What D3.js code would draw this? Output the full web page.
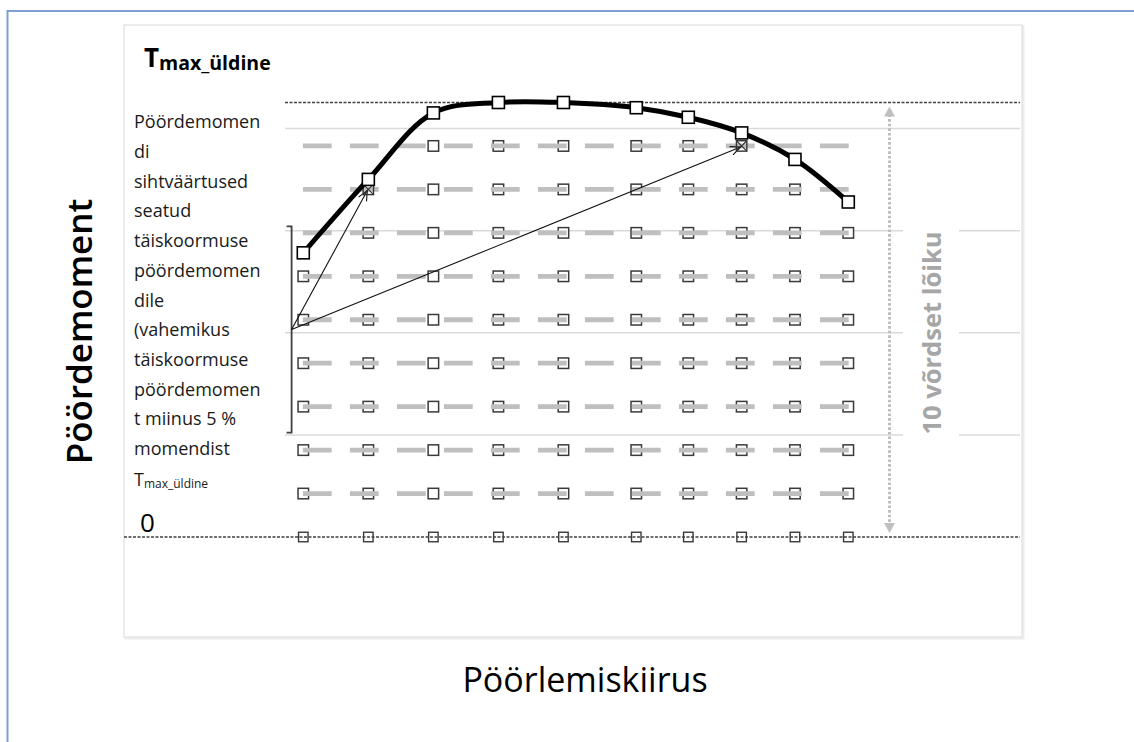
<!DOCTYPE html>
<html><head><meta charset="utf-8">
<script src="https://cdn.jsdelivr.net/npm/d3@7"></script>
<style>
html,body{margin:0;padding:0;background:#fff;}
svg{display:block;font-family:"Open Sans",sans-serif;}
</style>
</head><body>
<svg id="c" width="1134" height="742"></svg>
<script>
// ---- data ----
const speeds = [1000, 1500, 2000, 2500, 3000, 3560, 3960, 4370, 4780, 5190];
const fullLoadTorque = [65.4, 82.3, 97.6, 100, 100, 98.8, 96.6, 93.0, 86.9, 77.1];
const setpointLevels = [10, 20, 30, 40, 50, 60, 70, 80, 90];
const zeroLevel = 0;
const tmaxLevel = 100;
const gridLevels = [23.5, 47.0, 70.5, 94.0];
const bracketRange = [24, 71.5];
const bracketSpeed = 910;
const highlighted = [{speed: 1500, torque: 80}, {speed: 4370, torque: 90}];
const noteLines = ["Pöördemomen", "di", "sihtväärtused", "seatud", "täiskoormuse",
  "pöördemomen", "dile", "(vahemikus", "täiskoormuse", "pöördemomen",
  "t miinus 5 %", "momendist"];
const yAxisTitle = "Pöördemoment";
const xAxisTitle = "Pöörlemiskiirus";
const segmentLabel = "10 võrdset lõiku";
const zeroLabel = "0";

// ---- layout ----
const svg = d3.select("#c");
const x = d3.scaleLinear().domain([speeds[0], speeds[speeds.length - 1]]).range([303.3, 848.3]);
const y = d3.scaleLinear().domain([0, 100]).range([537, 102.5]);
const plotLeft = 285, plotRight = 1020;
const boxL = 124, boxT = 25, boxR = 1022, boxB = 637;

// outer blue frame
svg.append("line").attr("x1", 7).attr("x2", 1134).attr("y1", 11).attr("y2", 11)
  .attr("stroke", "#7f9fd4").attr("stroke-width", 2);
svg.append("line").attr("x1", 7.5).attr("x2", 7.5).attr("y1", 10).attr("y2", 742)
  .attr("stroke", "#7f9fd4").attr("stroke-width", 2);

// chart box with soft shadow
svg.append("rect").attr("x", boxL + 1.5).attr("y", boxT + 1.5).attr("width", boxR - boxL).attr("height", boxB - boxT)
  .attr("fill", "none").attr("stroke", "#ececec").attr("stroke-width", 2);
svg.append("rect").attr("x", boxL).attr("y", boxT).attr("width", boxR - boxL).attr("height", boxB - boxT)
  .attr("fill", "#fff").attr("stroke", "#d9d9d9").attr("stroke-width", 1);

// gridlines
svg.append("g").selectAll("line").data(gridLevels).join("line")
  .attr("x1", plotLeft).attr("x2", plotRight)
  .attr("y1", d => y(d)).attr("y2", d => y(d))
  .attr("stroke", "#dadada").attr("stroke-width", 1.5);

// white backing for the segment label
svg.append("rect").attr("x", 903).attr("y", 215).attr("width", 56).attr("height", 235).attr("fill", "#fff");

// setpoint markers (under dashes)
const isHi = (s, t) => highlighted.some(h => h.speed === s && h.torque === t);
const gridPts = [];
setpointLevels.forEach(t => speeds.forEach((s, i) => {
  if (t <= fullLoadTorque[i] && !isHi(s, t)) gridPts.push({s, t});
}));
const ms = 10.5;
svg.append("g").selectAll("rect").data(gridPts).join("rect")
  .attr("x", d => x(d.s) - ms / 2).attr("y", d => y(d.t) - ms / 2)
  .attr("width", ms).attr("height", ms)
  .attr("fill", "#fff").attr("stroke", "#3a3a3a").attr("stroke-width", 1.5);

// zero row markers
const zs = 9.5;
svg.append("g").selectAll("rect").data(speeds).join("rect")
  .attr("x", d => x(d) - zs / 2).attr("y", y(zeroLevel) - zs / 2)
  .attr("width", zs).attr("height", zs)
  .attr("fill", "#fff").attr("stroke", "#3a3a3a").attr("stroke-width", 1.4);

// dashed setpoint rows
const rowLine = d3.line().x(d => x(d[0])).y(d => y(d[1]));
svg.append("g").selectAll("path").data(setpointLevels).join("path")
  .attr("d", t => rowLine(speeds.map(s => [s, t])))
  .attr("fill", "none").attr("stroke", "#bfbfbf").attr("stroke-width", 4.8)
  .attr("stroke-linecap", "square")
  .attr("stroke-dasharray", "24,23").attr("stroke-dashoffset", -2);

// zero line and Tmax line (dotted)
svg.append("line").attr("x1", boxL).attr("x2", plotRight)
  .attr("y1", y(zeroLevel)).attr("y2", y(zeroLevel))
  .attr("stroke", "#404040").attr("stroke-width", 1.3).attr("stroke-dasharray", "3,1.5");
svg.append("line").attr("x1", plotLeft).attr("x2", plotRight)
  .attr("y1", y(tmaxLevel)).attr("y2", y(tmaxLevel))
  .attr("stroke", "#404040").attr("stroke-width", 1.3).attr("stroke-dasharray", "3,1.5");

// bracket
const bx = x(bracketSpeed);
svg.append("path")
  .attr("d", `M${bx - 5},${y(bracketRange[1])} H${bx} V${y(bracketRange[0])} H${bx - 5}`)
  .attr("fill", "none").attr("stroke", "#404040").attr("stroke-width", 1.8);

// arrows
const ox = bx, oy = y((bracketRange[0] + bracketRange[1]) / 2);
const arrows = svg.append("g");
highlighted.forEach(h => {
  const tx = x(h.speed) - 1, ty = y(h.torque) + 1;
  arrows.append("line").attr("x1", ox).attr("y1", oy).attr("x2", tx).attr("y2", ty)
    .attr("stroke", "#111").attr("stroke-width", 1.1);
  const ang = Math.atan2(ty - oy, tx - ox), L = 11, a = 0.42;
  arrows.append("path")
    .attr("d", `M${tx - L * Math.cos(ang - a)},${ty - L * Math.sin(ang - a)} L${tx},${ty} L${tx - L * Math.cos(ang + a)},${ty - L * Math.sin(ang + a)}`)
    .attr("fill", "none").attr("stroke", "#111").attr("stroke-width", 1.1);
});

// highlighted (crossed) markers
highlighted.forEach(h => {
  const cx = x(h.speed), cy = y(h.torque), r = 5.2;
  svg.append("rect").attr("x", cx - r).attr("y", cy - r).attr("width", 2 * r).attr("height", 2 * r)
    .attr("fill", "none").attr("stroke", "#333").attr("stroke-width", 1.4);
  svg.append("path").attr("d", `M${cx - r},${cy - r}L${cx + r},${cy + r}M${cx + r},${cy - r}L${cx - r},${cy + r}`)
    .attr("stroke", "#333").attr("stroke-width", 1.1);
});

// full-load curve
const curvePts = speeds.map((s, i) => [s, fullLoadTorque[i]]);
svg.append("path")
  .attr("d", d3.line().x(d => x(d[0])).y(d => y(d[1])).curve(d3.curveCatmullRom.alpha(0.5))(curvePts))
  .attr("fill", "none").attr("stroke", "#000").attr("stroke-width", 5);
const cs = 12;
svg.append("g").selectAll("rect").data(curvePts).join("rect")
  .attr("x", d => x(d[0]) - cs / 2).attr("y", d => y(d[1]) - cs / 2)
  .attr("width", cs).attr("height", cs)
  .attr("fill", "#fff").attr("stroke", "#000").attr("stroke-width", 1.6);

// double-headed dotted arrow
const ax = 889.5;
svg.append("line").attr("x1", ax).attr("x2", ax).attr("y1", y(tmaxLevel) + 12).attr("y2", y(zeroLevel) - 12)
  .attr("stroke", "#bfbfbf").attr("stroke-width", 3).attr("stroke-dasharray", "2.6,2");
svg.append("path").attr("d", `M${ax},${y(tmaxLevel) + 4} L${ax - 5.5},${y(tmaxLevel) + 14} L${ax + 5.5},${y(tmaxLevel) + 14}Z`)
  .attr("fill", "#bfbfbf");
svg.append("path").attr("d", `M${ax},${y(zeroLevel) - 4} L${ax - 5.5},${y(zeroLevel) - 14} L${ax + 5.5},${y(zeroLevel) - 14}Z`)
  .attr("fill", "#bfbfbf");

// ---- texts ----
const t1 = svg.append("text").attr("x", 144).attr("y", 66.5).attr("fill", "#000").attr("font-weight", 700);
t1.append("tspan").attr("font-size", 26).text("T");
t1.append("tspan").attr("font-size", 19.5).attr("dy", 3).text("max_üldine");

svg.append("g").selectAll("text").data(noteLines).join("text")
  .attr("x", 134).attr("y", (d, i) => 128.3 + i * 29.7)
  .attr("font-size", 18).attr("fill", "#1a1a1a").text(d => d);
const t2 = svg.append("text").attr("x", 134).attr("y", 128.3 + 12 * 29.7 + 1.5).attr("fill", "#1a1a1a");
t2.append("tspan").attr("font-size", 18).text("T");
t2.append("tspan").attr("font-size", 12).attr("dy", 2).text("max_üldine");

svg.append("text").attr("x", 140).attr("y", 531.5).attr("font-size", 26).attr("fill", "#000").text(zeroLabel);

svg.append("text").attr("transform", "translate(92,331.5) rotate(-90)")
  .attr("text-anchor", "middle").attr("font-size", 35).attr("font-weight", 600).attr("fill", "#000").text(yAxisTitle);

svg.append("text").attr("x", 585).attr("y", 692).attr("text-anchor", "middle")
  .attr("font-size", 34).attr("font-weight", 500).attr("fill", "#000").text(xAxisTitle);

svg.append("text").attr("transform", "translate(941,333) rotate(-90)")
  .attr("text-anchor", "middle").attr("font-size", 25.5).attr("font-weight", 700)
  .attr("fill", "#a6a6a6").text(segmentLabel);
</script>
</body></html>
